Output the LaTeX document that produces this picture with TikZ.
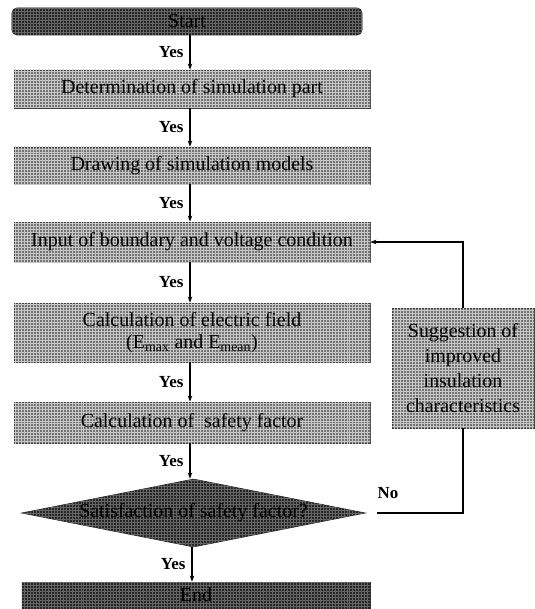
\documentclass[tikz,border=0pt]{standalone}
\usepackage{fontspec}
\setmainfont{Liberation Serif}
\usetikzlibrary{shapes.geometric,arrows.meta,patterns}
\begin{document}
\begin{tikzpicture}[x=1bp,y=-1bp,
  lightbox/.style={draw=black!75, line width=0.8bp, fill=black!55, inner sep=0pt,
    postaction={pattern=grid, pattern color=white!78!black},
    font=\fontsize{20}{22}\selectfont, align=center},
  darkbox/.style={draw=black!85, line width=0.8bp, fill=black!85, inner sep=0pt,
    postaction={pattern=grid, pattern color=black!60},
    font=\fontsize{20}{22}\selectfont, text=black},
  arr/.style={line width=1.1bp, -{Stealth[length=6bp,width=4.5bp]}},
  yeslab/.style={font=\fontsize{17}{19}\selectfont\bfseries, left, inner sep=0pt, xshift=-6bp},
  conn/.style={line width=1.1bp}
]
\useasboundingbox (0,0) rectangle (535,609);
\node[darkbox, rounded corners=5bp, minimum width=350bp, minimum height=27bp] (start) at (187,21.5) {Start};
\node[lightbox, minimum width=356bp, minimum height=38bp] (b2) at (192,89) {Determination of simulation part};
\node[lightbox, minimum width=356bp, minimum height=37bp] (b3) at (192,165.5) {Drawing of simulation models};
\node[lightbox, minimum width=356bp, minimum height=40bp] (b4) at (192,242) {Input of boundary and voltage condition};
\node[lightbox, minimum width=356bp, minimum height=59bp] (b5) at (192,332.5) {Calculation of electric field\\(E\textsubscript{max} and E\textsubscript{mean})};
\node[lightbox, minimum width=356bp, minimum height=41bp] (b6) at (192,422.5) {Calculation of \ safety factor};
\node[darkbox, diamond, shape aspect=5, minimum width=343bp, minimum height=68bp] (dia) at (193.5,513) {Satisfaction of safety factor?};
\node[darkbox, minimum width=348bp, minimum height=26bp] (end) at (196,595) {End};
\node[lightbox, minimum width=142bp, minimum height=120bp, font=\fontsize{20}{25}\selectfont] (sug) at (463,368) {Suggestion of\\improved\\insulation\\characteristics};

\draw[arr] (start.south -| 190,0) -- (b2.north -| 190,0) node[yeslab, pos=0.5] {Yes};
\draw[arr] (b2.south -| 190,0) -- (b3.north -| 190,0) node[yeslab, pos=0.5] {Yes};
\draw[arr] (b3.south -| 190,0) -- (b4.north -| 190,0) node[yeslab, pos=0.5] {Yes};
\draw[arr] (b4.south -| 190,0) -- (b5.north -| 190,0) node[yeslab, pos=0.5] {Yes};
\draw[arr] (b5.south -| 190,0) -- (b6.north -| 190,0) node[yeslab, pos=0.5] {Yes};
\draw[arr] (b6.south -| 190,0) -- (dia.north -| 190,0) node[yeslab, pos=0.5] {Yes};
\draw[arr] (dia.south -| 192,0) -- (end.north -| 192,0) node[yeslab, pos=0.5] {Yes};

\coordinate (nostart) at ([xshift=12bp]dia.east);
\draw[conn] (nostart) -| (sug.south);
\node[font=\fontsize{17}{19}\selectfont\bfseries, inner sep=0pt] (nolab) at (388,493) {No};
\draw[arr] (sug.north) |- (b4.east);
\end{tikzpicture}
\end{document}
